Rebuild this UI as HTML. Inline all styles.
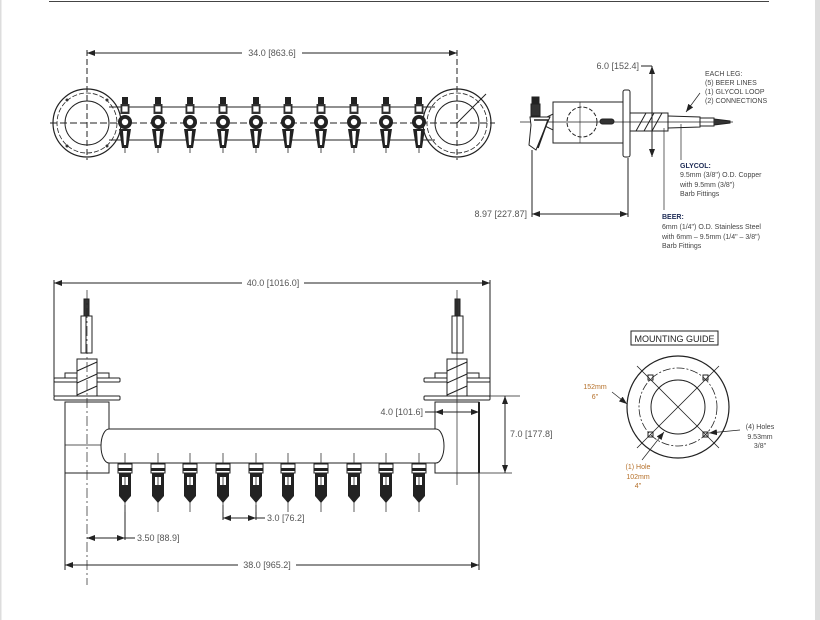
<!DOCTYPE html>
<html><head><meta charset="utf-8"><style>
html,body{margin:0;padding:0;background:#fff}
svg{display:block}
text{font-family:"Liberation Sans",sans-serif}
.d{font-size:9px;fill:#555}
.n{font-size:7px;fill:#444}
.o{font-size:7px;fill:#b5702a}
</style></head><body>
<svg width="820" height="620" viewBox="0 0 820 620" xmlns="http://www.w3.org/2000/svg">
<defs>
<marker id="a" markerWidth="8" markerHeight="6" refX="8" refY="3" orient="auto-start-reverse" markerUnits="userSpaceOnUse"><path d="M0,0 L8,3 L0,6 z" fill="#222"/></marker>
<g id="ft">
 <rect x="-3" y="97" width="6" height="7" fill="#222"/>
 <rect x="-4.5" y="104" width="9" height="10" fill="#333"/>
 <rect x="-3" y="106" width="6" height="6" fill="#fff" stroke="#222" stroke-width="0.6"/>
 <circle cx="0" cy="122" r="7" fill="#222"/>
 <circle cx="0" cy="122" r="3.5" fill="#fff" stroke="#222" stroke-width="0.6"/>
 <path d="M-6,129 L6,129 L3,148 L-3,148 z" fill="#222"/>
 <path d="M-2,131 L2,131 L1,145 L-1,145 z" fill="#fff"/>
 <line x1="0" y1="148" x2="0" y2="153" stroke="#222" stroke-width="0.8"/>
</g>
<g id="ff">
 <line x1="0" y1="453" x2="0" y2="512" stroke="#333" stroke-width="0.8"/>
 <rect x="-7" y="464" width="14" height="9" fill="#fff" stroke="#222" stroke-width="1"/>
 <rect x="-7" y="468" width="14" height="3" fill="#222"/>
 <path d="M-6,473 L6,473 L6,496 L0,503 L-6,496 z" fill="#222"/>
 <rect x="-3" y="477" width="6" height="8" fill="#fff"/>
 <line x1="0" y1="477" x2="0" y2="485" stroke="#222" stroke-width="0.8"/>
</g>
</defs>
<rect x="0" y="0" width="1.5" height="620" fill="#ddd"/>
<rect x="815" y="0" width="5" height="620" fill="#ddd"/>
<line x1="49" y1="1.5" x2="769" y2="1.5" stroke="#444" stroke-width="1"/>

<!-- TOP VIEW -->
<g stroke="#222" fill="none" stroke-width="1">
 <line x1="87" y1="50" x2="87" y2="160" stroke-dasharray="6,3"/>
 <line x1="457" y1="50" x2="457" y2="160" stroke-dasharray="6,3"/>
 <line x1="87" y1="53" x2="242" y2="53" marker-start="url(#a)"/>
 <line x1="302" y1="53" x2="457" y2="53" marker-end="url(#a)"/>
 <line x1="50" y1="123" x2="495" y2="123" stroke-dasharray="7,3"/>
 <circle cx="87" cy="123" r="34" stroke-width="1.2"/>
 <circle cx="87" cy="123" r="30" stroke-dasharray="5,2" stroke-width="0.8"/>
 <circle cx="87" cy="123" r="22"/>
 <circle cx="457" cy="123" r="34" stroke-width="1.2"/>
 <circle cx="457" cy="123" r="30" stroke-dasharray="5,2" stroke-width="0.8"/>
 <circle cx="457" cy="123" r="22"/>
 <line x1="457" y1="123" x2="486" y2="94"/>
 <line x1="109" y1="107" x2="435" y2="107"/>
 <line x1="109" y1="140" x2="435" y2="140"/>
</g>
<g fill="#333"><circle cx="67" cy="100" r="1.5"/><circle cx="107" cy="100" r="1.5"/><circle cx="67" cy="146" r="1.5"/><circle cx="107" cy="146" r="1.5"/></g>
<text class="d" x="272" y="56" text-anchor="middle">34.0 [863.6]</text>
<use href="#ft" x="125"/><use href="#ft" x="158"/><use href="#ft" x="190"/><use href="#ft" x="223"/><use href="#ft" x="256"/>
<use href="#ft" x="288"/><use href="#ft" x="321"/><use href="#ft" x="354"/><use href="#ft" x="386"/><use href="#ft" x="419"/>

<!-- SIDE VIEW -->
<g stroke="#222" fill="none" stroke-width="1">
 <line x1="520" y1="122" x2="733" y2="122" stroke-width="0.8"/>
 <rect x="553" y="102" width="70" height="41"/>
 <line x1="580" y1="102" x2="580" y2="143" stroke-width="0.6"/>
 <circle cx="582" cy="122" r="15" stroke-dasharray="4,2"/>
 <rect x="623" y="90" width="7" height="67" rx="2"/>
 <rect x="630" y="113" width="38" height="18"/>
 <path d="M636,131 L646,113 M644,131 L654,113 M652,131 L662,113" />
 <rect x="600" y="119" width="14" height="5" rx="2.5" fill="#333"/>
 <path d="M668,116 L700,117 L700,127 L668,128"/>
 <rect x="700" y="118" width="14" height="8"/>
 <path d="M714,119 L730,121 L730,123 L714,125" fill="#333"/>
 <path d="M545,118 L553,114 L553,130 L545,126"/>
 <rect x="532" y="97" width="7" height="7" fill="#222"/>
 <rect x="531" y="104" width="9" height="12" fill="#333"/>
 <path d="M530,117 L550,117 L545,128 L536,150 L529,145 L531,125 z" fill="#fff"/>
 <path d="M534,120 L548,120 L538,148" stroke-width="1.5"/>
 <line x1="532" y1="150" x2="532" y2="217"/>
 <line x1="628" y1="158" x2="628" y2="217"/>
 <line x1="532" y1="214" x2="628" y2="214" marker-start="url(#a)" marker-end="url(#a)"/>
 <line x1="641" y1="66" x2="652" y2="66"/>
 <line x1="652" y1="66" x2="652" y2="157" marker-start="url(#a)" marker-end="url(#a)"/>
 <line x1="681" y1="124" x2="681" y2="160" stroke-width="0.7"/>
 <line x1="664" y1="128" x2="664" y2="210" stroke-width="0.7"/>
 <line x1="700" y1="93" x2="686" y2="112" marker-end="url(#a)" stroke-width="0.7"/>
</g>
<text class="d" x="639" y="69" text-anchor="end">6.0 [152.4]</text>
<text class="d" x="527" y="217" text-anchor="end">8.97 [227.87]</text>
<text class="n" x="705" y="76">EACH LEG:</text>
<text class="n" x="705" y="85">(5) BEER LINES</text>
<text class="n" x="705" y="94">(1) GLYCOL LOOP</text>
<text class="n" x="705" y="103">(2) CONNECTIONS</text>
<text class="n" x="680" y="168" style="font-weight:bold;fill:#1d2b55">GLYCOL:</text>
<text class="n" x="680" y="177">9.5mm (3/8") O.D. Copper</text>
<text class="n" x="680" y="187">with 9.5mm (3/8")</text>
<text class="n" x="680" y="196">Barb Fittings</text>
<text class="n" x="662" y="219" style="font-weight:bold;fill:#1d2b55">BEER:</text>
<text class="n" x="662" y="229">6mm (1/4") O.D. Stainless Steel</text>
<text class="n" x="662" y="239">with 6mm – 9.5mm (1/4" – 3/8")</text>
<text class="n" x="662" y="248">Barb Fittings</text>

<!-- FRONT VIEW -->
<g stroke="#222" fill="none" stroke-width="1">
 <line x1="54" y1="280" x2="54" y2="396"/>
 <line x1="490" y1="280" x2="490" y2="396"/>
 <line x1="54" y1="283" x2="242" y2="283" marker-start="url(#a)"/>
 <line x1="304" y1="283" x2="490" y2="283" marker-end="url(#a)"/>
 <!-- left column -->
 <rect x="54" y="378" width="66" height="4" rx="1"/>
 <rect x="65" y="373" width="44" height="5"/>
 <rect x="54" y="396" width="66" height="4" rx="1"/>
 <rect x="65" y="402" width="44" height="71"/>
 <line x1="65" y1="445" x2="102" y2="445" stroke-width="0.7"/>
 <rect x="77" y="359" width="20" height="37" fill="#fff"/>
 <path d="M77,371 L97,362 M77,383 L97,374 M77,395 L97,386"/>
 <rect x="81" y="316" width="11" height="37"/>
 <line x1="86" y1="316" x2="86" y2="353"/>
 <rect x="84" y="299" width="5" height="17" fill="#333"/>
 <line x1="87" y1="290" x2="87" y2="585" stroke-dasharray="10,3,2,3" stroke-width="0.7"/>
 <!-- right column -->
 <rect x="424" y="378" width="66" height="4" rx="1"/>
 <rect x="435" y="373" width="44" height="5"/>
 <rect x="424" y="396" width="66" height="4" rx="1"/>
 <rect x="435" y="402" width="44" height="71"/>
 <line x1="479" y1="402" x2="479" y2="473" stroke-width="2"/>
 <rect x="447" y="359" width="20" height="37" fill="#fff"/>
 <path d="M447,371 L467,362 M447,383 L467,374 M447,395 L467,386"/>
 <rect x="452" y="316" width="11" height="37"/>
 <line x1="457" y1="316" x2="457" y2="353"/>
 <rect x="455" y="299" width="5" height="17" fill="#333"/>
 <line x1="457" y1="290" x2="457" y2="485" stroke-width="0.7"/>
 <!-- bar -->
 <path d="M109,429 L436,429 A8,17 0 0 1 436,463 L109,463 A8,17 0 0 1 109,429 z" fill="#fff"/>
 <!-- dims -->
 <line x1="480" y1="396" x2="520" y2="396" stroke-width="0.7"/>
 <line x1="505" y1="396" x2="505" y2="473" marker-start="url(#a)" marker-end="url(#a)"/>
 <line x1="479" y1="473" x2="512" y2="473" stroke-width="0.7"/>
 <line x1="425" y1="412" x2="435" y2="412"/>
 <line x1="435" y1="412" x2="479" y2="412" marker-start="url(#a)" marker-end="url(#a)"/>
 <line x1="65" y1="473" x2="65" y2="570"/>
 <line x1="479" y1="473" x2="479" y2="570"/>
 <line x1="65" y1="565" x2="238" y2="565" marker-start="url(#a)"/>
 <line x1="296" y1="565" x2="479" y2="565" marker-end="url(#a)"/>
 <line x1="87" y1="538" x2="125" y2="538" marker-start="url(#a)" marker-end="url(#a)"/>
 <line x1="125" y1="505" x2="125" y2="540"/>
 <line x1="125" y1="538" x2="135" y2="538"/>
 <line x1="223" y1="505" x2="223" y2="520"/>
 <line x1="256" y1="505" x2="256" y2="520"/>
 <line x1="223" y1="518" x2="256" y2="518" marker-start="url(#a)" marker-end="url(#a)"/>
 <line x1="256" y1="518" x2="265" y2="518"/>
</g>
<text class="d" x="273" y="286" text-anchor="middle">40.0 [1016.0]</text>
<text class="d" x="423" y="415" text-anchor="end">4.0 [101.6]</text>
<text class="d" x="510" y="437">7.0 [177.8]</text>
<text class="d" x="267" y="521">3.0 [76.2]</text>
<text class="d" x="137" y="541">3.50 [88.9]</text>
<text class="d" x="267" y="568" text-anchor="middle">38.0 [965.2]</text>
<use href="#ff" x="125"/><use href="#ff" x="158"/><use href="#ff" x="190"/><use href="#ff" x="223"/><use href="#ff" x="256"/>
<use href="#ff" x="288"/><use href="#ff" x="321"/><use href="#ff" x="354"/><use href="#ff" x="386"/><use href="#ff" x="419"/>

<!-- MOUNTING GUIDE -->
<rect x="631" y="331" width="87" height="14" fill="#fff" stroke="#222" stroke-width="1"/>
<text x="674.5" y="342" text-anchor="middle" style="font-size:9px;fill:#222">MOUNTING GUIDE</text>
<g stroke="#222" fill="none" stroke-width="1">
 <circle cx="678" cy="407" r="51" stroke-width="1.2"/>
 <circle cx="678" cy="407" r="39" stroke-dasharray="8,2,2,2" stroke-width="0.8"/>
 <circle cx="678" cy="407" r="27"/>
 <line x1="637" y1="366" x2="719" y2="448" stroke-width="0.8"/>
 <line x1="719" y1="366" x2="637" y2="448" stroke-width="0.8"/>
 <rect x="648" y="375" width="5" height="5"/><rect x="703" y="375" width="5" height="5"/>
 <rect x="648" y="432" width="5" height="5"/><rect x="703" y="432" width="5" height="5"/>
 <line x1="612" y1="392" x2="627" y2="404" marker-end="url(#a)" stroke-width="0.7"/>
 <line x1="740" y1="430" x2="709" y2="433" marker-end="url(#a)" stroke-width="0.7"/>
 <line x1="642" y1="460" x2="664" y2="432" marker-end="url(#a)" stroke-width="0.7"/>
</g>
<text class="o" x="595" y="389" text-anchor="middle">152mm</text>
<text class="o" x="595" y="399" text-anchor="middle">6"</text>
<text class="n" x="760" y="429" text-anchor="middle">(4) Holes</text>
<text class="n" x="760" y="439" text-anchor="middle">9.53mm</text>
<text class="n" x="760" y="448" text-anchor="middle">3/8"</text>
<text class="o" x="638" y="469" text-anchor="middle">(1) Hole</text>
<text class="o" x="638" y="479" text-anchor="middle">102mm</text>
<text class="o" x="638" y="488" text-anchor="middle">4"</text>
</svg>
</body></html>
